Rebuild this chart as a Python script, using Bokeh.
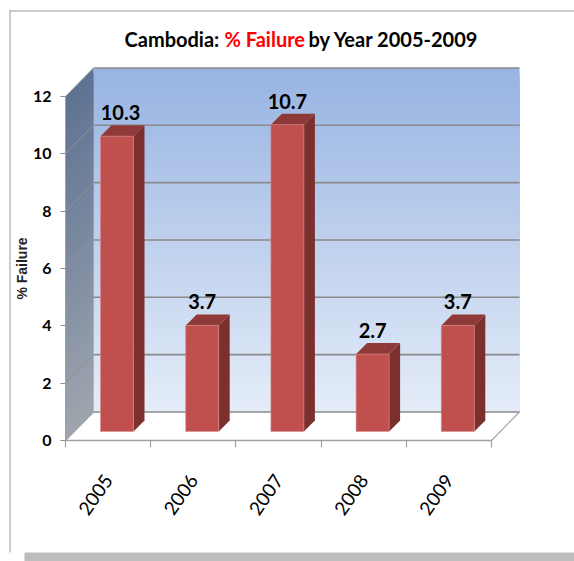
import numpy as np
from bokeh.plotting import figure
from bokeh.models import LinearAxis, FixedTicker, BoxAnnotation, Label, Range1d
from bokeh.core.properties import value
from bokeh.embed import file_html
from bokeh.resources import INLINE

years = ["2005", "2006", "2007", "2008", "2009"]
failure = [10.3, 3.7, 10.7, 2.7, 3.7]
labels = ["10.3", "3.7", "10.7", "2.7", "3.7"]
y_ticks = [0, 2, 4, 6, 8, 10, 12]

FONT = "Lato"
W, H = 574, 561
PX_X, PX_Y = 85.2, 28.67           # screen pixels per category / per unit
X0, Y0 = 65, 440                   # axis origin on the canvas
WD_X, WD_Y = 28 / PX_X, 28.5 / PX_Y   # wall depth
BO_X, BO_Y = 8.9 / PX_X, 9 / PX_Y     # bar base offset inside the floor
BD_X, BD_Y = 11 / PX_X, 11 / PX_Y     # bar depth
BAR_W = 33 / PX_X
N = len(years)
YMAX = y_ticks[-1]

p = figure(width=W, height=H, output_backend="svg", toolbar_location=None,
           x_axis_type=None, y_axis_type=None, min_border=0,
           x_range=Range1d(-X0 / PX_X, (W - X0) / PX_X),
           y_range=Range1d((Y0 - H) / PX_Y, Y0 / PX_Y))
p.grid.visible = False
p.outline_line_color = None
p.background_fill_color = "white"
p.border_fill_color = "white"


def mix(c1, c2, t):
    return "#%02x%02x%02x" % tuple(int(round(a + (b - a) * t)) for a, b in zip(c1, c2))


# gradient back wall and side wall: painted top-down, each strip reaches the floor
levels = np.linspace(YMAX, 0, 70)
for i, v in enumerate(levels[:-1]):
    t = i / (len(levels) - 2)
    p.quad(left=WD_X, right=N + WD_X, top=v + WD_Y, bottom=WD_Y,
           fill_color=mix((0x98, 0xb4, 0xe2), (0xe4, 0xec, 0xf8), t), line_color=None)
    p.patch([0, WD_X, WD_X, 0], [v, v + WD_Y, WD_Y, 0],
            fill_color=mix((0x5e, 0x72, 0x92), (0x9e, 0xa5, 0xae), t), line_color=None)

# gridlines on the back wall and the side wall
GRID = "#8a8a8a"
p.segment(x0=[WD_X] * len(y_ticks), x1=[N + WD_X] * len(y_ticks),
          y0=[v + WD_Y for v in y_ticks], y1=[v + WD_Y for v in y_ticks],
          line_color=GRID, line_width=1.6)
p.segment(x0=[0] * len(y_ticks), x1=[WD_X] * len(y_ticks),
          y0=y_ticks, y1=[v + WD_Y for v in y_ticks],
          line_color="#8f9499", line_width=1)
# floor edges
p.line([0, WD_X], [0, WD_Y], line_color="#a8a8a8", line_width=1.2)
p.line([N, N + WD_X], [0, WD_Y], line_color="#a8a8a8", line_width=1.2)

# bars
cx = np.arange(N) + 0.5 + BO_X
vals = np.array(failure)
for x, v in zip(cx, vals):
    l, r = x - BAR_W / 2, x + BAR_W / 2
    b, t = BO_Y, BO_Y + v
    p.patch([r, r + BD_X, r + BD_X, r], [b, b + BD_Y, t + BD_Y, t],
            fill_color="#7b302e", line_color=None)
    p.patch([l, r, r + BD_X, l + BD_X], [t, t, t + BD_Y, t + BD_Y],
            fill_color="#8f3a38", line_color=None)
    p.quad(left=l, right=r, top=t, bottom=b, fill_color="#c0504d",
           line_color="#d98c8a", line_width=0.6)

# value labels (the first one sits a little right of its bar in the reference)
label_nudge = np.array([3.5, 0, 0, 0, 0]) / PX_X
p.text(x=list(cx + label_nudge), y=list(vals + BO_Y + BD_Y + 5 / PX_Y), text=labels,
       text_font=value(FONT), text_font_style="bold", text_font_size="20px",
       text_color="black", text_align="center", text_baseline="bottom")

# axes
yaxis = LinearAxis(fixed_location=0, ticker=FixedTicker(ticks=y_ticks), bounds=(0, YMAX),
                   axis_label="% Failure", axis_label_text_font="Liberation Sans",
                   axis_label_text_font_style="bold", axis_label_text_font_size="14px",
                   axis_label_standoff=0, axis_label_text_color="#222222")
yaxis.major_label_text_font = FONT
yaxis.major_label_text_font_style = "bold"
yaxis.major_label_text_font_size = "16px"
yaxis.major_label_text_color = "black"
yaxis.major_label_standoff = 9
yaxis.major_tick_in = 0
yaxis.major_tick_out = 5
yaxis.minor_tick_line_color = None
yaxis.axis_line_color = "#a0a0a0"
yaxis.major_tick_line_color = "#909090"
p.add_layout(yaxis, "left")

xaxis = LinearAxis(fixed_location=0, bounds=(0, N),
                   ticker=FixedTicker(ticks=[i + 0.5 for i in range(N)],
                                      minor_ticks=list(range(N + 1))),
                   major_label_overrides={i + 0.5: y for i, y in enumerate(years)})
xaxis.major_label_orientation = np.radians(55)
xaxis.major_label_text_font = FONT
xaxis.major_label_text_font_size = "19px"
xaxis.major_label_text_color = "black"
xaxis.major_label_standoff = 29
xaxis.major_tick_line_color = None
xaxis.minor_tick_in = 0
xaxis.minor_tick_out = 7
xaxis.minor_tick_line_color = "#a0a0a0"
xaxis.minor_tick_line_width = 1.2
xaxis.axis_line_color = "#a0a0a0"
xaxis.axis_line_width = 1.4
p.add_layout(xaxis, "below")

# page furniture
for l, r, t, b, c in [(9, 10, H - 10, H - 552, "#9a9a9a"), (9, W, H - 10, H - 11, "#9a9a9a"), (24, W, H - 552, 0, "#bdbdbd")]:
    p.add_layout(BoxAnnotation(left=l, right=r, top=t, bottom=b,
                               left_units="screen", right_units="screen",
                               top_units="screen", bottom_units="screen",
                               fill_color=c, fill_alpha=1, line_color=None))

# title in three runs
for txt, x, c in [("Cambodia:", 124, "black"), ("% Failure", 224, "#ff0000"), ("by Year 2005-2009", 308, "black")]:
    p.add_layout(Label(x=x, y=H - 38, x_units="screen", y_units="screen", text=txt,
                       text_font=FONT, text_font_style="bold", text_font_size="20px",
                       text_color=c, text_baseline="middle"))

open("out.html", "w").write(file_html(p, INLINE))
